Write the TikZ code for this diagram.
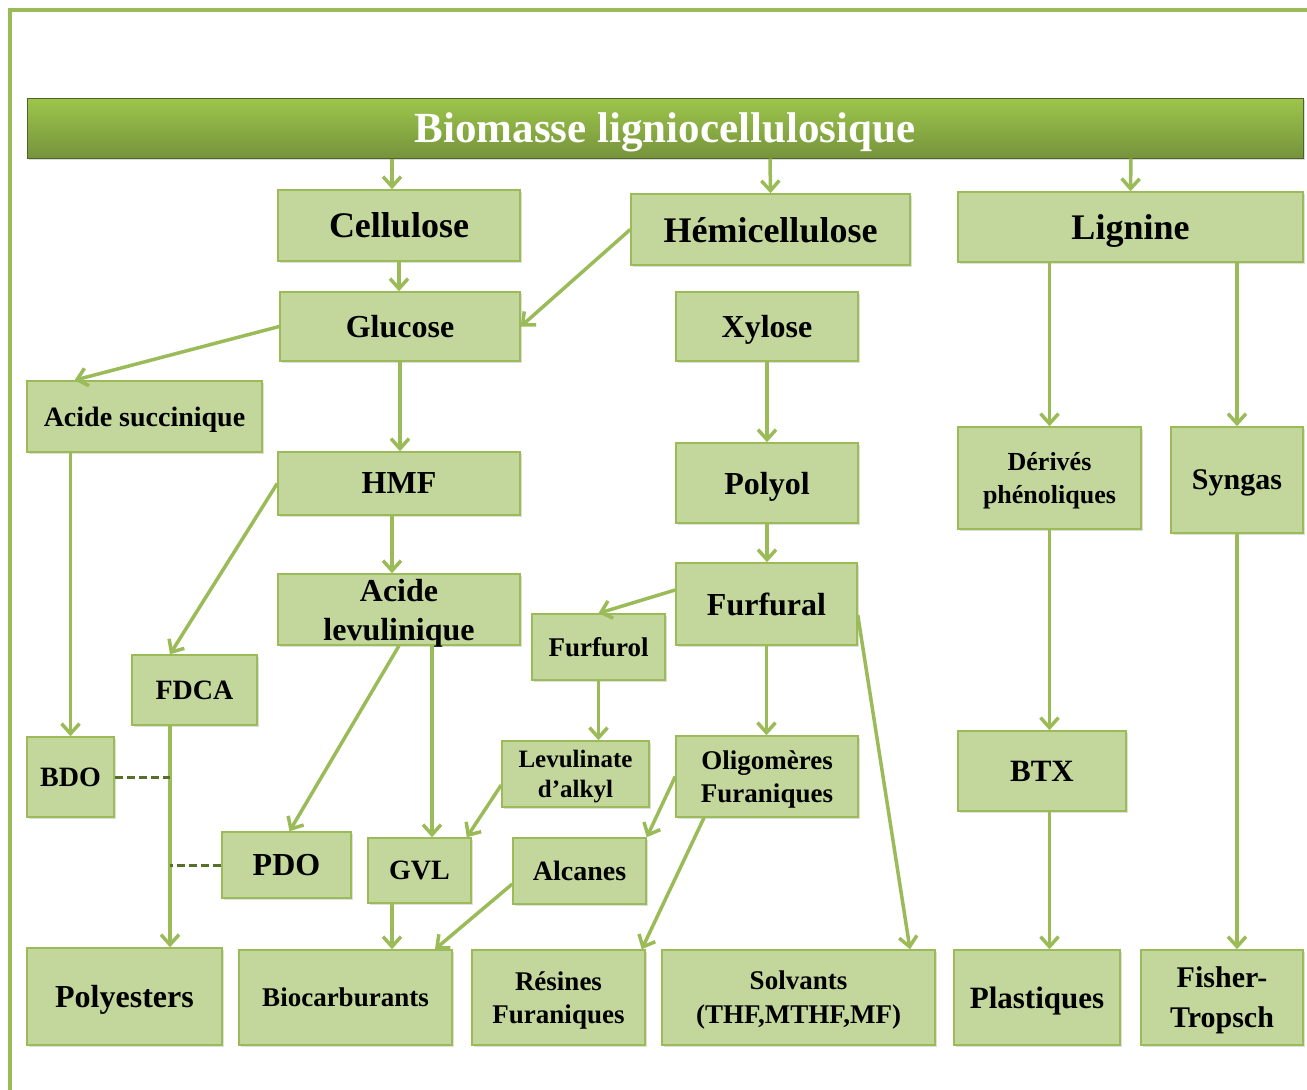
\documentclass[tikz,border=0pt]{standalone}
\usepackage{fontspec}
\setmainfont{Liberation Serif}
\usetikzlibrary{arrows.meta,shadows}
\definecolor{boxfill}{HTML}{C3D69B}
\definecolor{boxline}{HTML}{9BBB59}
\definecolor{barTop}{HTML}{9DC64B}
\definecolor{barBot}{HTML}{76933C}
\definecolor{barLine}{HTML}{4F6228}
\definecolor{dashcol}{HTML}{56702C}

\begin{document}
\begin{tikzpicture}[x=1pt, y=-1pt,
			base/.style={draw=boxline, line width=1.5pt, fill=boxfill, align=center, inner sep=0pt, text depth=0pt, text=black, drop shadow={shadow xshift=1.5pt, shadow yshift=-1.5pt, opacity=0.25}},
			box/.style 2 args={base, minimum width=#1, minimum height=#2},
			txt/.style 2 args={font=\fontsize{#1}{#2}\selectfont\bfseries},
			titlebar/.style={draw=barLine, line width=1pt, top color=barTop, bottom color=barBot, text=white, minimum width=1276pt, minimum height=60pt, inner sep=0pt, text depth=0pt, drop shadow={shadow xshift=1.5pt, shadow yshift=-1.5pt, opacity=0.3}},
			link/.style={draw=boxline, line width=3.5pt, -{Straight Barb[length=10pt, width=18pt, line width=3.5pt]}},
			dashlink/.style={draw=dashcol, line width=3pt, dash pattern=on 8pt off 4pt},
			frame/.style={draw=boxline, line width=4pt},
		]

		\useasboundingbox (0,0) rectangle (1307,1090);
		\draw[frame] (1320,10) -- (10,10) -- (10,1100);

		\node[titlebar, txt={43}{48}] (bar) at (665,128) {Biomasse ligniocellulosique};

		\node[box={242pt}{71pt}, txt={36}{42}] (cellulose) at (399,225.5) {Cellulose};
		\node[box={279pt}{71pt}, txt={36}{42}] (hemi) at (770.5,229.5) {Hémicellulose};
		\node[box={345pt}{70pt}, txt={36}{42}] (lignine) at (1130.5,227) {Lignine};

		\node[box={240pt}{69pt}, txt={32}{38}] (glucose) at (400,326.5) {Glucose};
		\node[box={182pt}{69pt}, txt={32}{38}] (xylose) at (767,326.5) {Xylose};
		\node[box={235pt}{71pt}, txt={28}{33}] (acsucc) at (144.5,416.5) {Acide succinique};
		\node[box={242pt}{63pt}, txt={32}{38}] (hmf) at (399,483.5) {HMF};
		\node[box={182pt}{80pt}, txt={32}{38}] (polyol) at (767,483) {Polyol};
		\node[box={183pt}{102pt}, txt={26}{33}] (derives) at (1049.5,478) {Dérivés\\phénoliques};
		\node[box={132pt}{106pt}, txt={30}{36}] (syngas) at (1237,480) {Syngas};

		\node[box={242pt}{71pt}, txt={32}{39}] (aclev) at (399,609.5) {Acide\\levulinique};
		\node[box={181pt}{82pt}, txt={32}{38}] (furfural) at (766.5,604) {Furfural};
		\node[box={133pt}{66pt}, txt={27}{32}] (furfurol) at (598.5,647) {Furfurol};
		\node[box={125pt}{70pt}, txt={28}{33}] (fdca) at (194.5,690) {FDCA};

		\node[box={87pt}{80pt}, txt={28}{33}] (bdo) at (70.5,777) {BDO};
		\node[box={147pt}{66pt}, txt={25}{30}] (levul) at (575.5,774) {Levulinate\\d’alkyl};
		\node[box={182pt}{81pt}, txt={27}{33}] (oligo) at (767,776.5) {Oligomères\\Furaniques};
		\node[box={168pt}{80pt}, txt={31}{36}] (btx) at (1042,771) {BTX};
		\node[box={129pt}{66pt}, txt={32}{38}] (pdo) at (286.5,865) {PDO};
		\node[box={103pt}{65pt}, txt={28}{33}] (gvl) at (419.5,870.5) {GVL};
		\node[box={133pt}{66pt}, txt={28}{33}] (alcanes) at (579.5,871) {Alcanes};

		\node[box={195pt}{97pt}, txt={32}{38}] (polyest) at (124.5,996.5) {Polyesters};
		\node[box={213pt}{95pt}, txt={27}{33}] (biocarb) at (345.5,997.5) {Biocarburants};
		\node[box={173pt}{95pt}, txt={27}{33}] (resines) at (558.5,997.5) {Résines\\Furaniques};
		\node[box={273pt}{95pt}, txt={27}{34}] (solv) at (798.5,997.5) {Solvants\\(THF,MTHF,MF)};
		\node[box={166pt}{95pt}, txt={31}{37}] (plast) at (1037,997.5) {Plastiques};
		\node[box={162pt}{95pt}, txt={30}{40}] (fisher) at (1222,997.5) {Fisher-\\Tropsch};

		\coordinate (trunk) at ([xshift=-24.5pt]fdca.south);

		\draw[link] ([xshift=-273pt]bar.south) -- ([xshift=-7pt]cellulose.north);
		\draw[link] ([xshift=105pt]bar.south) -- (hemi.north);
		\draw[link] ([xshift=466pt]bar.south) -- (lignine.north);

		\draw[link] (cellulose.south) -- (cellulose.south |- glucose.north);
		\draw[link] (hemi.west) -- (glucose.east);
		\draw[link] (glucose.west) -- ([xshift=-70pt]acsucc.north);
		\draw[link] (glucose.south) -- (glucose.south |- hmf.north);
		\draw[link] (acsucc.south -| bdo.north) -- (bdo.north);
		\draw[link] (hmf.west) -- ([xshift=-24.5pt]fdca.north);
		\draw[link] ([xshift=-7pt]hmf.south) -- ([xshift=-7pt]aclev.north);
		\draw[link] (aclev.south) -- ([xshift=3pt]pdo.north);
		\draw[link] ([xshift=33pt]aclev.south) -- ([xshift=12.5pt]gvl.north);
		\draw[link] (trunk) -- (trunk |- polyest.north);
		\draw[dashlink] (bdo.east) -- (bdo.east -| trunk);
		\draw[dashlink] (pdo.west) -- (pdo.west -| trunk);

		\draw[link] (xylose.south) -- (xylose.south |- polyol.north);
		\draw[link] (polyol.south) -- (polyol.south |- furfural.north);
		\draw[link] ([yshift=14pt]furfural.west) -- (furfurol.north);
		\draw[link] (furfurol.south) -- (furfurol.south |- levul.north);
		\draw[link] (furfural.south) -- (furfural.south |- oligo.north);
		\draw[link] ([yshift=-11pt]furfural.east) -- ([xshift=111.5pt]solv.north);
		\draw[link] ([yshift=-11pt]levul.west) -- ([xshift=-5pt]gvl.north east);
		\draw[link] (oligo.west) -- (alcanes.north east);
		\draw[link] ([xshift=-63pt]oligo.south) -- ([xshift=-4pt]resines.north east);
		\draw[link] ([xshift=-27.5pt]gvl.south) -- ([xshift=46.5pt]biocarb.north);
		\draw[link] ([yshift=-13pt]alcanes.west) -- ([xshift=89.5pt]biocarb.north);

		\draw[link] (lignine.south -| derives.north) -- (derives.north);
		\draw[link] (lignine.south -| syngas.north) -- (syngas.north);
		\draw[link] (derives.south) -- (derives.south |- btx.north);
		\draw[link] (derives.south |- btx.south) -- (derives.south |- plast.north);
		\draw[link] (syngas.south) -- (syngas.south |- fisher.north);

		\end{tikzpicture}
\end{document}
